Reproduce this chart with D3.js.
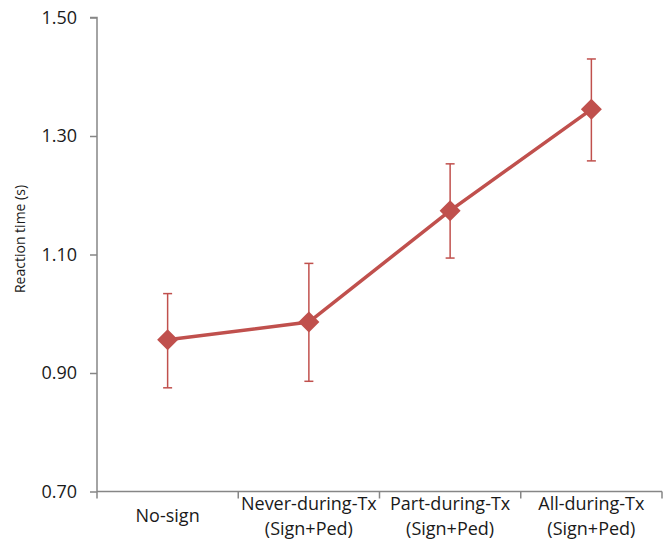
<!DOCTYPE html>
<html>
<head>
<meta charset="utf-8">
<script src="https://cdn.jsdelivr.net/npm/d3@7"></script>
<style>
  body { margin: 0; background: #fff; }
  text { font-family: "Open Sans", sans-serif; fill: #1a1a1a; }
</style>
</head>
<body>
<svg id="chart" width="667" height="550"></svg>
<script>
const categories = [["No-sign"], ["Never-during-Tx", "(Sign+Ped)"], ["Part-during-Tx", "(Sign+Ped)"], ["All-during-Tx", "(Sign+Ped)"]];
const means = [0.956, 0.986, 1.174, 1.345];
const upper = [1.034, 1.085, 1.253, 1.430];
const lower = [0.875, 0.886, 1.094, 1.258];
const yTicks = [0.70, 0.90, 1.10, 1.30, 1.50];

const svg = d3.select("#chart");
const red = "#c0504d";
const axisColor = "#868686";

const margin = {top: 17.5, right: 5, bottom: 58.5, left: 97};
const width = +svg.attr("width");
const height = +svg.attr("height");

const x = d3.scaleBand()
  .domain(d3.range(categories.length))
  .range([margin.left, width - margin.right]);

const y = d3.scaleLinear()
  .domain([0.70, 1.50])
  .range([height - margin.bottom, margin.top]);

// Y-axis
const yAxis = svg.append("g")
  .attr("transform", `translate(${margin.left}, 0)`)
  .call(d3.axisLeft(y).tickValues(yTicks).tickFormat(d3.format(".2f")).tickSize(7).tickPadding(13));
yAxis.selectAll("line, path").attr("stroke", axisColor).attr("stroke-width", 1.5);
yAxis.select(".domain").attr("d", `M-7,${y(1.5)}H0V${y(0.7)}`);
yAxis.selectAll("text").style("font-size", "18px").style("fill", "#1a1a1a");

// X-axis
const xAxisG = svg.append("g")
  .attr("transform", `translate(0, ${height - margin.bottom})`);
xAxisG.append("line")
  .attr("x1", x.range()[0]).attr("x2", x.range()[1])
  .attr("stroke", axisColor).attr("stroke-width", 1.5);
xAxisG.selectAll(".xtick")
  .data(d3.range(categories.length + 1))
  .join("line")
  .attr("class", "xtick")
  .attr("x1", i => x.range()[0] + i * x.bandwidth())
  .attr("x2", i => x.range()[0] + i * x.bandwidth())
  .attr("y1", 0).attr("y2", 7)
  .attr("stroke", axisColor).attr("stroke-width", 1.5);

// category labels, one text per line
const lines = categories.flatMap((c, i) => c.map((t, j) => ({t, i, j, n: c.length})));
xAxisG.selectAll(".xlabel")
  .data(lines)
  .join("text")
  .attr("class", "xlabel")
  .attr("text-anchor", "middle")
  .attr("x", d => x(d.i) + x.bandwidth() / 2)
  .attr("y", d => d.n === 1 ? 30 : 18.5 + d.j * 24.5)
  .style("font-size", "18px")
  .text(d => d.t);

const cx = i => x(i) + x.bandwidth() / 2;

// error bars
const err = svg.append("g").attr("stroke", red).attr("stroke-width", 1.5);
err.selectAll(".bar")
  .data(means)
  .join("line")
  .attr("x1", (d, i) => cx(i)).attr("x2", (d, i) => cx(i))
  .attr("y1", (d, i) => y(upper[i])).attr("y2", (d, i) => y(lower[i]));
err.selectAll(".capTop")
  .data(upper)
  .join("line")
  .attr("class", "capTop")
  .attr("x1", (d, i) => cx(i) - 4.5).attr("x2", (d, i) => cx(i) + 4.5)
  .attr("y1", d => y(d)).attr("y2", d => y(d));
err.selectAll(".capBot")
  .data(lower)
  .join("line")
  .attr("class", "capBot")
  .attr("x1", (d, i) => cx(i) - 4.5).attr("x2", (d, i) => cx(i) + 4.5)
  .attr("y1", d => y(d)).attr("y2", d => y(d));

// line
svg.append("path")
  .datum(means)
  .attr("fill", "none")
  .attr("stroke", red)
  .attr("stroke-width", 3.5)
  .attr("d", d3.line().x((d, i) => cx(i)).y(d => y(d)));

// diamonds
svg.selectAll(".marker")
  .data(means)
  .join("path")
  .attr("class", "marker")
  .attr("transform", (d, i) => `translate(${cx(i)},${y(d)})`)
  .attr("d", "M0,-10.5L10.5,0L0,10.5L-10.5,0Z")
  .attr("fill", red);

// y label
svg.append("text")
  .attr("transform", "rotate(-90)")
  .attr("x", -239)
  .attr("y", 25)
  .attr("text-anchor", "middle")
  .style("font-size", "14px")
  .text("Reaction time (s)");
</script>
</body>
</html>
